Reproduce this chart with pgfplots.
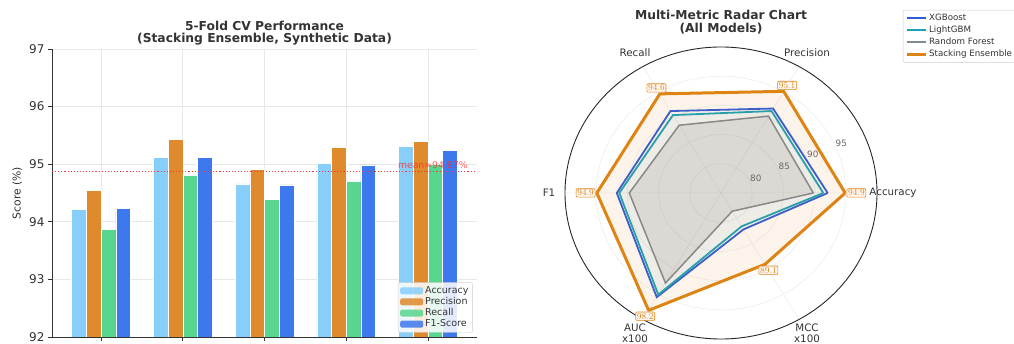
\documentclass[border=0pt]{standalone}
\usepackage{fontspec}
\setmainfont{DejaVu Sans}
\usepackage{pgfplots}
\usepgfplotslibrary{polar}
\pgfplotsset{compat=1.18}
\usepackage{pgfplotstable}

\definecolor{cacc}{HTML}{87CEFA}
\definecolor{cprec}{HTML}{E08A2E}
\definecolor{crec}{HTML}{58D68D}
\definecolor{cf1}{HTML}{3D78EC}
\definecolor{cxgb}{HTML}{2E5BDB}
\definecolor{clgb}{HTML}{17A2B8}
\definecolor{crf}{HTML}{7F8A94}
\definecolor{cst}{HTML}{DE8415}
\definecolor{txt}{HTML}{333333}

\pgfplotstableread{
f acc prec rec f1
0 94.21 94.55 93.87 94.23
1 95.12 95.43 94.80 95.12
2 94.66 94.91 94.39 94.64
3 95.01 95.29 94.71 94.99
4 95.32 95.40 95.00 95.24
}\cvdata

\pgfplotstableread{
a an xgb lgb rf st
0 180 92.1 91.4 89.8 94.9
60 240 91.7 91.2 90.2 95.1
120 300 91.2 90.4 88.4 94.6
180 0 91.7 91.3 89.7 94.9
240 60 95.6 95.1 92.8 98.2
300 120 82.2 81.6 78.6 89.1
360 180 92.1 91.4 89.8 94.9
}\radar

\begin{document}
\begin{tikzpicture}
\path[use as bounding box] (0pt,0pt) rectangle (1014pt,344pt);

% ---------------- bar chart ----------------
\begin{axis}[
  at={(52pt,7pt)}, anchor=south west,
  scale only axis, width=425pt, height=288pt,
  xmin=-0.6, xmax=4.6, ymin=92, ymax=97,
  xtick={0,1,2,3,4}, xticklabels={},
  ytick={92,93,94,95,96,97},
  axis x line*=bottom, axis y line*=left,
  axis line style={txt, line width=0.9pt},
  tick style={txt, line width=0.8pt}, tick align=outside, major tick length=4pt,
  grid=major, major grid style={black!9, line width=0.6pt},
  /pgf/number format/assume math mode=true,
  yticklabel style={font=\fontsize{12}{13}\selectfont, text=txt},
  ylabel={Score (\%)},
  ylabel style={font=\fontsize{10.8}{12}\selectfont, text=txt, at={(axis description cs:-0.062,0.5)}},
  title={5-Fold CV Performance\\(Stacking Ensemble, Synthetic Data)},
  title style={font=\bfseries\fontsize{12.3}{12.8}\selectfont, align=center, text=txt, yshift=-6pt},
  ybar, bar width=0.18,
  legend style={at={(0.99,0.015)}, anchor=south east, font=\fontsize{9.5}{10.5}\selectfont,
    draw=black!20, fill=white, fill opacity=0.85, text opacity=1, rounded corners=2pt,
    cells={anchor=west}, row sep=-1.5pt, inner sep=2pt, text=txt},
  legend image code/.code={\draw[#1,draw=none] (-4pt,-3.5pt) rectangle (19pt,3.5pt);},
]
\addplot[fill=cacc, draw=white, line width=0.5pt, bar shift=-0.27] table[x=f,y=acc]{\cvdata};
\addplot[fill=cprec, draw=white, line width=0.5pt, bar shift=-0.09] table[x=f,y=prec]{\cvdata};
\addplot[fill=crec, draw=white, line width=0.5pt, bar shift=0.09] table[x=f,y=rec]{\cvdata};
\addplot[fill=cf1, draw=white, line width=0.5pt, bar shift=0.27] table[x=f,y=f1]{\cvdata};
\legend{Accuracy,Precision,Recall,F1-Score}
\addplot[sharp plot, red!80, dotted, line width=1.1pt, forget plot] coordinates {(-0.6,94.87) (4.6,94.87)};
\node[anchor=south east, text=red!85, text opacity=0.75, font=\fontsize{9.3}{10}\selectfont, inner sep=1pt] at (axis cs:4.5,94.9) {mean=94.87\%};
\end{axis}

% ---------------- radar chart ----------------
\begin{polaraxis}[
  at={(721pt,151pt)}, anchor=center,
  scale only axis, width=312pt, height=292pt,
  xmin=0, xmax=360, ymin=0, ymax=25,
  y filter/.expression={y-75},
  xtick={0,60,120,180,240,300},
  xticklabels={Accuracy,Precision,Recall,F1,{AUC\\x100},{MCC\\x100}},
  xticklabel style={font=\fontsize{10.3}{10.5}\selectfont, text=txt, align=center, inner sep=0pt, anchor=center},
  xticklabel shift=16pt,
  ytick={5,10,15,20}, yticklabels={},
  grid=major, major grid style={black!8, line width=0.5pt},
  separate axis lines,
  x axis line style={black!85, line width=0.9pt},
  y axis line style={draw=none},
  major tick length=0pt,
  clip=false,
  title={Multi-Metric Radar Chart\\(All Models)},
  title style={font=\bfseries\fontsize{12.3}{12.8}\selectfont, align=center, text=txt, yshift=-5pt},
  legend style={at={(axis description cs:1.083,1.127)}, anchor=north west,
    font=\fontsize{8.7}{10}\selectfont, draw=black!20, rounded corners=1pt,
    cells={anchor=west}, row sep=0pt, inner sep=2pt, text=txt},
  legend image code/.code={\draw[#1, fill=none] (0pt,0pt) -- (19pt,0pt);},
]
\addplot[no marks, sharp plot, draw=cxgb, line width=1.8pt, fill=cxgb, fill opacity=0.035] table[x=a,y=xgb]{\radar};
\addplot[no marks, sharp plot, draw=clgb, line width=1.8pt, fill=clgb, fill opacity=0.035] table[x=a,y=lgb]{\radar};
\addplot[no marks, sharp plot, draw=crf, line width=1.5pt, fill=black, fill opacity=0.08] table[x=a,y=rf]{\radar};
\addplot[no marks, sharp plot, draw=cst, line width=3pt, fill=cst, fill opacity=0.09, line join=round] table[x=a,y=st]{\radar};
\legend{XGBoost,LightGBM,Random Forest,Stacking Ensemble}
\addplot[only marks, mark=none, forget plot, skip coords between index={6}{7},
  point meta=explicit,
  visualization depends on={\thisrow{an} \as \anc},
  nodes near coords={\pgfmathprintnumber[fixed,precision=1,fixed zerofill]{\pgfplotspointmeta}},
  every node near coord/.append style={anchor=\anc, font=\bfseries\fontsize{9.3}{10}\selectfont,
    text=cst, fill=orange!6, draw=cst, line width=0.6pt, rounded corners=1pt, inner sep=1.3pt, outer sep=1.7pt}
] table[x=a,y=st,meta=st]{\radar};
\node[font=\fontsize{8.8}{9}\selectfont, text=black!60] at (axis cs:24,6.1) {80};
\node[font=\fontsize{8.8}{9}\selectfont, text=black!60] at (axis cs:24,11.1) {85};
\node[font=\fontsize{8.8}{9}\selectfont, text=black!60] at (axis cs:24,16.1) {90};
\node[font=\fontsize{8.8}{9}\selectfont, text=black!60] at (axis cs:24,21.1) {95};
\end{polaraxis}
\end{tikzpicture}
\end{document}
